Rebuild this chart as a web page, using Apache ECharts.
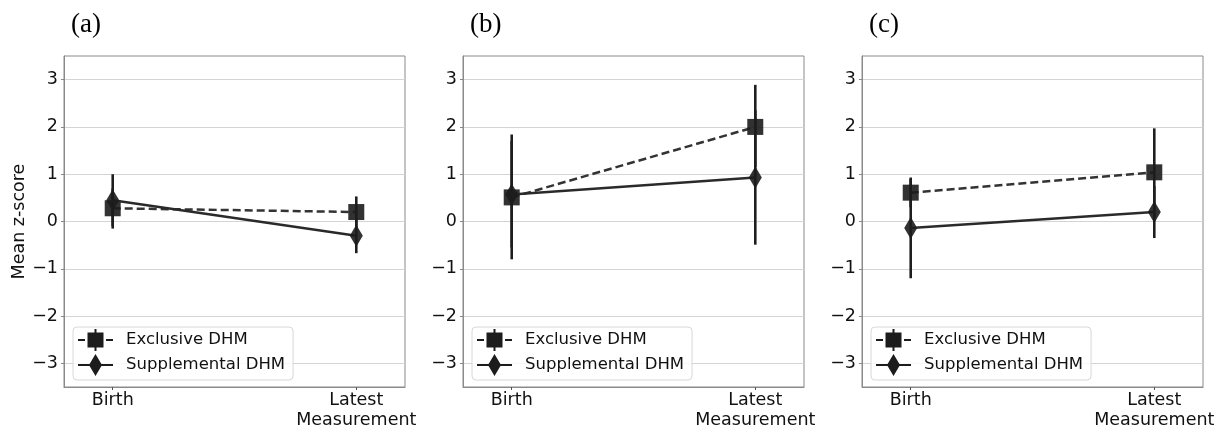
<!DOCTYPE html>
<html>
<head>
<meta charset="utf-8">
<script src="https://cdn.jsdelivr.net/npm/echarts@6/dist/echarts.min.js"></script>
<style>html,body{margin:0;padding:0;background:#fff}#c{width:1227px;height:430px}</style>
</head>
<body>
<div id="c"></div>
<script>
// ---- data ----
var categories = ['Birth', 'Latest\nMeasurement'];
var panelTitles = ['(a)', '(b)', '(c)'];
var seriesNames = ['Exclusive DHM', 'Supplemental DHM'];
var yTicks = [-3, -2, -1, 0, 1, 2, 3];

var exclusiveA = [0.28, 0.20];
var supplementalA = [0.45, -0.30];
var exclusiveErrA = [[-0.15, 0.70], [-0.15, 0.53]];
var supplementalErrA = [[-0.10, 1.00], [-0.67, 0.05]];

var exclusiveB = [0.51, 2.00];
var supplementalB = [0.57, 0.93];
var exclusiveErrB = [[-0.80, 1.84], [1.15, 2.89]];
var supplementalErrB = [[-0.55, 1.70], [-0.49, 2.35]];

var exclusiveC = [0.61, 1.04];
var supplementalC = [-0.14, 0.20];
var exclusiveErrC = [[0.30, 0.93], [0.10, 1.97]];
var supplementalErrC = [[-1.20, 0.90], [-0.35, 0.75]];

var panels = [
  {ex: exclusiveA, sup: supplementalA, exErr: exclusiveErrA, supErr: supplementalErrA},
  {ex: exclusiveB, sup: supplementalB, exErr: exclusiveErrB, supErr: supplementalErrB},
  {ex: exclusiveC, sup: supplementalC, exErr: exclusiveErrC, supErr: supplementalErrC}
];

// ---- layout / style ----
var gridLefts = [64, 463, 862];
var gridWidth = 341;
var FONT = 'DejaVu Sans';
var TXT = '#111';
var MARK = 'rgba(28,28,28,0.9)';

// legend icons: line + marker + error bar (drawn as filled shapes)
var iconExclusive = 'path://M0 10L7 10L7 12L0 12Z M9.5 3.5L25.5 3.5L25.5 18.5L9.5 18.5Z M28 10L35 10L35 12L28 12Z M16.5 0L18.5 0L18.5 22L16.5 22Z';
var iconSupplemental = 'path://M0 10L35 10L35 12L0 12Z M17.5 0L24 11L17.5 22L11 11Z';

var chart = echarts.init(document.getElementById('c'), null, {renderer: 'canvas'});

var grids = [], xAxes = [], yAxes = [], series = [], titles = [], legends = [];

function fmtY(v) {
  if (Math.abs(v - Math.round(v)) > 1e-6) return '';
  return v < 0 ? '\u2212' + Math.abs(v) : String(v);
}

panels.forEach(function (p, i) {
  grids.push({left: gridLefts[i], top: 56, width: gridWidth, bottom: 42,
    show: true, borderColor: '#8a8a8a', borderWidth: 1, backgroundColor: '#fff'});
  titles.push({text: panelTitles[i], left: gridLefts[i] + 2, top: 6,
    textStyle: {fontFamily: 'Liberation Serif', fontSize: 27, fontWeight: 'normal', color: '#000'}});
  xAxes.push({type: 'value', gridIndex: i, min: -0.2, max: 1.2,
    axisLine: {show: true, onZero: false, lineStyle: {color: '#8a8a8a', width: 1}},
    axisTick: {show: true, customValues: [0, 1], length: 3, lineStyle: {color: '#555'}},
    splitLine: {show: false},
    axisLabel: {customValues: [0, 1], margin: 3, fontFamily: FONT, fontSize: 17.5, color: TXT, lineHeight: 20,
      align: 'center', formatter: function (v) { return categories[Math.round(v)]; }}
  });
  var ya = {type: 'value', gridIndex: i, min: -3.5, max: 3.5,
    axisLine: {show: true, onZero: false, lineStyle: {color: '#8a8a8a', width: 1}},
    axisTick: {show: true, customValues: yTicks, length: 3, lineStyle: {color: '#888'}},
    splitLine: {show: true, lineStyle: {color: '#d4d4d4', width: 1}},
    axisLabel: {customValues: yTicks, margin: 6, fontFamily: FONT, fontSize: 17.5, color: TXT, formatter: fmtY}
  };
  if (i === 0) {
    ya.name = 'Mean z-score';
    ya.nameLocation = 'middle';
    ya.nameRotate = 90;
    ya.nameGap = 34;
    ya.nameTextStyle = {fontFamily: FONT, fontSize: 17.5, color: TXT};
  }
  yAxes.push(ya);

  var errData = [];
  [p.exErr, p.supErr].forEach(function (arr) {
    arr.forEach(function (e, k) { errData.push([k, e[0], e[1]]); });
  });
  series.push({
    type: 'custom', name: 'err' + i, xAxisIndex: i, yAxisIndex: i, z: 2, silent: true,
    data: errData,
    renderItem: function (params, api) {
      var a = api.coord([api.value(0), api.value(1)]);
      var b = api.coord([api.value(0), api.value(2)]);
      return {type: 'line', shape: {x1: a[0], y1: a[1], x2: b[0], y2: b[1]},
        style: {stroke: '#1e1e1e', lineWidth: 2.6}};
    }
  });
  series.push({
    type: 'line', name: seriesNames[0], xAxisIndex: i, yAxisIndex: i, z: 3,
    data: p.ex.map(function (v, k) { return [k, v]; }),
    symbol: 'rect', symbolSize: 16,
    lineStyle: {color: '#333', width: 2.5, type: [8, 4]},
    itemStyle: {color: MARK},
    emphasis: {disabled: true}
  });
  series.push({
    type: 'line', name: seriesNames[1], xAxisIndex: i, yAxisIndex: i, z: 4,
    data: p.sup.map(function (v, k) { return [k, v]; }),
    symbol: 'diamond', symbolSize: [13, 22],
    lineStyle: {color: '#2a2a2a', width: 2.5, type: 'solid'},
    itemStyle: {color: MARK},
    emphasis: {disabled: true}
  });
  legends.push({
    data: [{name: seriesNames[0], icon: iconExclusive}, {name: seriesNames[1], icon: iconSupplemental}],
    orient: 'vertical', left: gridLefts[i] + 9, top: 327,
    itemWidth: 35, itemHeight: 22, itemGap: 3,
    padding: [2, 8, 4, 5],
    itemStyle: {color: '#1c1c1c', borderWidth: 0},
    lineStyle: {width: 0},
    backgroundColor: 'rgba(255,255,255,0.8)', borderColor: '#d8d8d8', borderWidth: 1, borderRadius: 4,
    textStyle: {fontFamily: FONT, fontSize: 16.5, color: TXT, padding: [0, 0, 0, 8]},
    selectedMode: false
  });
});

chart.setOption({
  animation: false,
  title: titles,
  grid: grids,
  xAxis: xAxes,
  yAxis: yAxes,
  legend: legends,
  series: series
});
</script>
</body>
</html>
